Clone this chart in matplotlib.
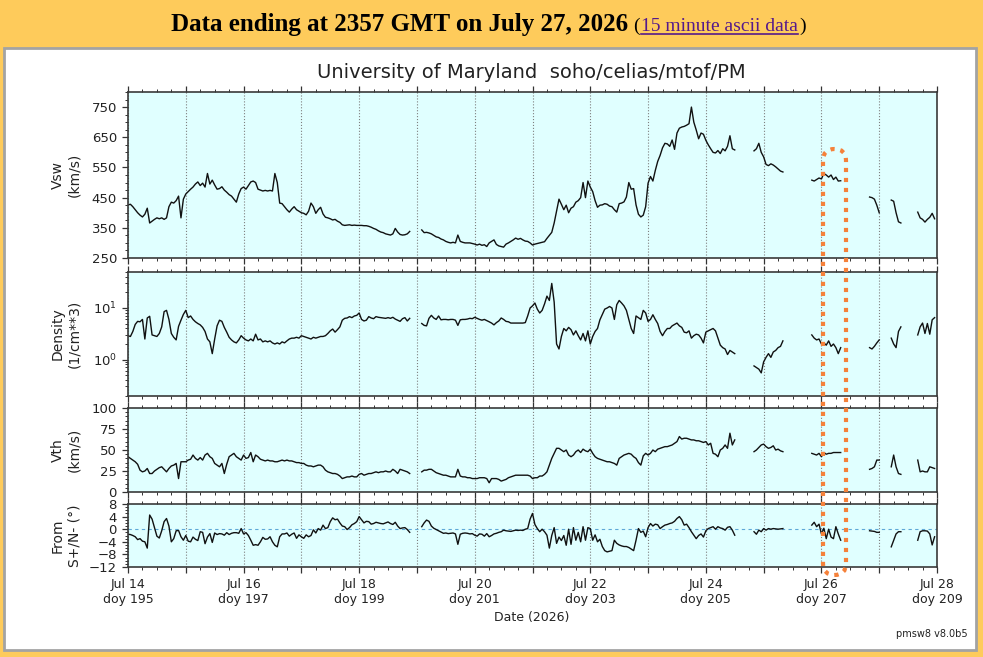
import numpy as np
import matplotlib
matplotlib.use("Agg")
import matplotlib.pyplot as plt
from matplotlib.patches import Rectangle, FancyBboxPatch
from matplotlib.transforms import IdentityTransform
from matplotlib.ticker import MultipleLocator, FixedLocator, LogLocator, NullFormatter, FuncFormatter

na = np.nan

# hourly values, Jul 14 00:00 .. Jul 27 23:00 GMT (one row per day)
vsw = [
    426, 428, 420, 410, 400, 392, 386, 395, 415, 366, 372, 378, 383, 380, 383, 378, 383, 420, 435, 432, 440, 455, 383, 445,
    462, 470, 478, 485, 495, 502, 490, 498, 485, 530, 495, 508, 492, 478, 480, 486, 475, 468, 460, 455, 445, 435, 462, 480,
    485, 478, 490, 502, 505, 500, 478, 475, 472, 474, 472, 474, 472, 530, 500, 432, 430, 420, 410, 402, 412, 420, 410, 405,
    400, 398, 393, 405, 432, 420, 398, 410, 418, 396, 385, 383, 380, 376, 378, 372, 368, 360, 358, 359, 360, 358, 359, 358,
    358, 358, 357, 357, 355, 352, 348, 345, 340, 336, 334, 330, 328, 326, 330, 348, 336, 328, 326, 327, 330, 338, na, na,
    na, na, 343, 334, 335, 333, 330, 325, 320, 318, 313, 310, 305, 302, 300, 302, 300, 326, 305, 302, 300, 300, 300, 298,
    296, 293, 296, 292, 294, 288, 300, 305, 310, 295, 290, 288, 286, 296, 300, 305, 310, 316, 312, 315, 310, 306, 305, 300,
    293, 296, 298, 300, 302, 304, 315, 325, 335, 366, 405, 445, 428, 410, 425, 400, 415, 420, 435, 440, 450, 500, 450, 505,
    485, 470, 440, 418, 425, 426, 430, 428, 422, 420, 410, 402, 430, 432, 436, 452, 500, 478, 480, 426, 395, 386, 392, 420,
    498, 520, 505, 540, 570, 590, 615, 630, 628, 620, 641, 610, 664, 680, 684, 686, 690, 695, 750, 700, 674, 645, 664, 660,
    640, 625, 612, 600, 598, 606, 596, 612, 605, 620, 655, 612, 608, na, na, na, na, na, na, na, 605, 612, 630, 600,
    585, 560, 556, 562, 558, 552, 545, 538, 535, na, na, na, na, na, na, na, na, na, na, na, 508, 505, 510, 515,
    512, 530, 525, 518, 525, 510, 518, 505, 506, na, na, na, na, na, na, na, na, na, na, na, 452, 450, 445, 425,
    400, na, na, na, na, 442, 438, 400, 370, 366, na, na, na, na, na, na, 402, 383, 378, 369, 378, 385, 398, 380,
]

density = [
    2.9, 2.8, 3.5, 4.8, 5.5, 5.4, 6.0, 2.5, 6.4, 6.9, 3.0, 2.9, 2.8, 3.2, 4.3, 8.5, 9.0, 6.0, 3.2, 2.7, 2.4, 4.4, 5.8, 7.5,
    9.0, 6.5, 7.0, 6.0, 5.4, 5.0, 4.7, 4.2, 3.5, 2.5, 2.2, 1.3, 2.5, 4.5, 5.8, 5.5, 4.2, 3.4, 2.7, 2.4, 2.2, 2.1, 2.4, 2.9,
    2.6, 2.4, 2.3, 2.5, 2.3, 3.1, 2.4, 2.5, 2.2, 2.3, 2.2, 2.3, 2.1, 2.0, 2.1, 2.0, 2.2, 2.1, 2.3, 2.5, 2.6, 2.6, 2.7, 2.6,
    2.9, 2.8, 2.7, 2.6, 2.5, 2.7, 2.6, 2.7, 2.8, 2.8, 2.9, 3.2, 3.6, 3.9, 3.4, 3.8, 4.3, 5.8, 6.3, 6.4, 6.8, 6.5, 7.0, 7.2,
    8.0, 6.0, 5.6, 5.8, 6.8, 6.4, 6.2, 6.8, 6.6, 6.5, 6.4, 6.3, 6.5, 6.3, 6.6, 6.1, 5.8, 5.5, 6.2, 6.5, 5.6, 6.3, na, na,
    na, na, 5.0, 4.6, 4.5, 6.3, 7.2, 6.4, 6.0, 7.0, 5.9, 6.0, 6.0, 5.9, 6.0, 6.0, 5.8, 4.6, 5.9, 6.0, 6.0, 6.1, 6.3, 6.2,
    6.6, 6.3, 6.0, 5.8, 6.0, 5.7, 5.4, 5.1, 4.7, 5.2, 5.6, 6.4, 6.0, 5.5, 5.4, 5.1, 5.1, 5.1, 5.1, 5.1, 5.1, 5.2, 7.0, 10.0,
    11.0, 12.5, 9.5, 8.0, 9.0, 12.0, 17.0, 14.0, 30.0, 13.0, 2.0, 1.6, 2.8, 4.0, 3.6, 4.2, 3.8, 3.0, 3.6, 2.9, 2.4, 3.2, 2.3, 3.6,
    2.0, 2.8, 3.5, 4.0, 5.9, 7.5, 9.5, 10.0, 10.7, 10.0, 6.0, 11.6, 14.0, 12.5, 11.0, 9.0, 6.0, 4.0, 3.2, 7.0, 6.5, 6.0, 9.0, 8.0,
    5.5, 6.0, 7.4, 6.0, 5.0, 3.5, 2.9, 3.5, 4.0, 4.0, 4.5, 4.8, 5.1, 4.5, 4.2, 3.4, 3.3, 3.6, 2.6, 2.9, 3.1, 3.0, 2.6, 2.1,
    3.4, 3.6, 3.8, 4.0, 3.6, 2.6, 1.9, 1.7, 1.6, 1.25, 1.5, 1.4, 1.3, na, na, na, na, na, na, na, 0.75, 0.7, 0.65, 0.55,
    0.9, 1.1, 1.3, 1.1, 1.4, 1.5, 1.7, 1.8, 2.3, na, na, na, na, na, na, na, na, na, na, na, 3.0, 2.6, 2.4, 2.5,
    2.0, 2.1, 1.9, 2.3, 1.8, 2.0, 1.7, 1.3, 1.7, na, na, na, na, na, na, na, na, na, na, na, 1.7, 1.6, 1.8, 2.1,
    2.4, na, na, na, na, 2.6, 2.0, 1.7, 3.5, 4.3, na, na, na, na, na, na, 3.0, 4.3, 5.1, 3.2, 5.0, 3.1, 5.9, 6.5,
]

vth = [
    42, 40, 38, 36, 33, 26, 24, 25, 28, 22, 22, 25, 27, 29, 30, 27, 24, 28, 31, 32, 34, 16, 36, 36,
    36, 38, 39, 44, 40, 38, 41, 38, 44, 46, 42, 40, 34, 32, 30, 34, 22, 33, 42, 44, 46, 42, 40, 38,
    44, 40, 41, 47, 36, 44, 42, 39, 38, 37, 38, 37, 37, 36, 36, 37, 38, 37, 38, 37, 37, 36, 35, 35,
    34, 34, 32, 31, 31, 30, 31, 32, 32, 30, 26, 24, 23, 22, 22, 21, 19, 16, 17, 18, 18, 19, 18, 18,
    21, 22, 20, 21, 22, 22, 23, 24, 23, 24, 24, 25, 24, 24, 27, 25, 22, 27, 26, 25, 24, 22, na, na,
    na, na, 24, 26, 26, 27, 27, 25, 23, 22, 21, 20, 20, 19, 18, 18, 18, 27, 19, 18, 18, 17, 17, 16,
    16, 16, 17, 17, 17, 16, 11, 16, 16, 16, 15, 13, 14, 15, 17, 18, 19, 20, 20, 20, 20, 20, 20, 19,
    16, 17, 17, 19, 19, 21, 24, 32, 40, 46, 52, 52, 50, 48, 50, 44, 42, 44, 48, 50, 47, 51, 49, 48,
    51, 46, 42, 40, 39, 38, 37, 36, 36, 35, 34, 32, 40, 42, 44, 45, 46, 45, 42, 40, 35, 32, 43, 46,
    44, 46, 50, 48, 51, 52, 53, 54, 54, 55, 56, 58, 60, 66, 63, 64, 64, 63, 62, 62, 61, 61, 60, 59,
    60, 56, 58, 46, 45, 42, 50, 52, 56, 52, 70, 56, 62, na, na, na, na, na, na, na, 48, 50, 53, 56,
    57, 54, 52, 53, 55, 50, 51, 49, 48, na, na, na, na, na, na, na, na, na, na, na, 46, 45, 44, 46,
    42, 47, 45, 46, 46, 47, 47, 47, 47, na, na, na, na, na, na, na, na, na, na, na, 27, 28, 30, 38,
    38, na, na, na, na, 30, 44, 30, 22, 21, na, na, na, na, na, na, 38, 24, 25, 24, 24, 30, 29, 28,
]

flow_angle = [
    -1.6, -1.7, -2.0, -2.4, -3.3, -3.0, -3.8, -4.0, -6.0, 4.5, 3.2, 0.5, -2.2, -2.8, -0.5, 2.4, 3.4, 1.0, -4.0, -3.0, -0.5, -0.4, -2.4, -3.5,
    -2.0, -3.8, -4.0, -2.5, -3.2, -3.6, -0.8, -1.0, -4.6, -2.5, -1.4, -4.2, -1.2, -1.7, -1.4, -1.5, -1.9, -1.1, -1.7, -1.3, -1.1, -1.1, -1.3, 0.2,
    -1.5, -1.1, -2.0, -3.5, -5.1, -4.9, -5.1, -4.0, -2.6, -3.2, -3.1, -2.4, -4.0, -5.1, -5.6, -2.4, -1.5, -1.5, -1.2, -2.2, -1.6, -1.2, -2.9, -1.8,
    -2.4, -2.9, -1.8, -2.4, -2.0, -0.2, -1.2, 0.2, -0.3, 1.3, 0.2, 0.5, 2.4, 3.6, 3.0, 3.2, 2.0, 1.0, 0.8, -0.1, 0.5, 1.4, 1.8, 2.4,
    4.0, 3.0, 2.0, 2.5, 2.4, 1.6, 1.8, 2.2, 2.0, 1.8, 1.7, 2.0, 2.3, 1.8, 1.5, 2.2, 1.0, 0.2, 0.4, 0.5, -0.1, -1.0, na, na,
    na, na, 0.8, 2.0, 2.9, 2.5, 1.0, 0.3, -0.1, -0.5, -0.9, -1.3, -1.2, -1.4, -1.3, -1.2, -1.5, -4.8, -1.6, -1.3, -1.2, -1.3, -1.5, -1.4,
    -1.9, -2.2, -1.5, -1.6, -2.2, -1.4, -2.4, -2.0, -1.5, -1.3, -1.0, -0.8, -0.3, -0.5, -0.6, -0.7, -0.5, -0.3, -0.4, -0.3, -0.4, 0.0, 0.2, 3.2,
    5.0, 1.5, 0.2, -0.8, 0.0, -0.8, -1.9, -6.0, -2.0, 0.5, -4.5, -2.5, -3.6, -2.0, -5.1, 0.0, -4.8, 0.5, -3.5, -1.0, -4.0, 0.8, -3.5, 0.5,
    0.2, -3.5, -1.8, -4.0, -3.2, -5.5, -6.8, -7.2, -7.0, -6.8, -3.5, -4.5, -5.0, -5.3, -5.5, -5.5, -5.8, -6.3, -6.8, -3.5, 0.2, -1.0, -0.6, -2.4,
    0.5, 1.8, 1.0, 1.6, 1.4, 0.2, 0.8, 1.3, 1.5, 1.8, 2.0, 2.5, 3.4, 4.0, 3.0, 1.3, 1.6, 0.5, -0.8, -1.9, -3.0, -2.0, -1.5, -2.5,
    -0.5, 0.2, 0.5, 0.8, 0.0, 0.8, 0.4, 0.2, -0.3, 0.6, 0.8, -0.3, -1.9, na, na, na, na, na, na, na, -0.8, -1.6, -0.3, -0.8,
    0.2, -0.3, 0.2, 0.0, 0.2, 0.1, 0.0, 0.1, 0.2, na, na, na, na, na, na, na, na, na, na, na, 1.3, 2.2, 0.8, 1.6,
    -1.5, 0.3, -3.0, 0.0, -2.5, -3.0, 0.8, -1.5, -3.5, na, na, na, na, na, na, na, na, na, na, na, -0.5, -0.6, -0.7, -1.0,
    -1.0, na, na, na, na, -5.6, -3.5, -1.5, -0.8, -0.8, na, na, na, na, na, na, -3.5, -0.8, -0.5, -0.5, -0.6, -1.5, -5.0, -2.4,
]

date_labels = ["Jul 14\ndoy 195", "Jul 16\ndoy 197", "Jul 18\ndoy 199", "Jul 20\ndoy 201",
               "Jul 22\ndoy 203", "Jul 24\ndoy 205", "Jul 26\ndoy 207", "Jul 28\ndoy 209"]

days = np.arange(len(vsw)) / 24.0

W, H = 983, 657
fig = plt.figure(figsize=(W / 100, H / 100), dpi=100)
fig.patch.set_facecolor("#fecb5b")


def fx(px):
    return px / W


def fy(py):
    return 1 - py / H


# white page area with grey border
fig.add_artist(Rectangle((fx(4), fy(650)), 972 / W, 602 / H, transform=fig.transFigure,
                         facecolor="white", edgecolor="#a3a3a3", lw=2, zorder=0))

# page header
serif = "Liberation Serif"
head = fig.text(fx(628), fy(31), "Data ending at 2357 GMT on July 27, 2026", ha="right", va="baseline",
                family=serif, weight="bold", size=18)
fig.text(fx(633), fy(31), "(", ha="left", va="baseline", family=serif, size=14)
link = fig.text(fx(641), fy(31), "15 minute ascii data", ha="left", va="baseline",
                family=serif, size=14, color="#551a8b")
renderer = fig.canvas.get_renderer()
lb = link.get_window_extent(renderer)
fig.add_artist(plt.Line2D([lb.x0 / W, lb.x1 / W], [fy(34), fy(34)], transform=fig.transFigure,
                          color="#551a8b", lw=1.2))
fig.text(lb.x1 / W + 1 / W, fy(31), ")", ha="left", va="baseline", family=serif, size=14)

fig.text(fx(531), fy(73), "University of Maryland  soho/celias/mtof/PM", ha="center", va="center",
         size=14, color="#222222")

panels = [(92, 258), (272, 395.5), (408, 492), (504, 567)]
axes = []
for top, bot in panels:
    ax = fig.add_axes([fx(128), fy(bot), 809 / W, (bot - top) / H])
    ax.set_facecolor("#e0ffff")
    ax.set_xlim(0, 14)
    ax.xaxis.set_major_locator(MultipleLocator(1))
    ax.xaxis.set_minor_locator(MultipleLocator(0.25))
    ax.grid(axis="x", which="major", ls=":", color="#7f7f7f", lw=0.8)
    ax.tick_params(which="both", direction="out", top=True, right=False, colors="#333333",
                   labelsize=9.5, labelcolor="#222222")
    ax.tick_params(which="major", length=4.5, width=0.9)
    ax.tick_params(which="minor", length=2.5, width=0.7)
    ax.tick_params(axis="x", labelbottom=False)
    for s in ax.spines.values():
        s.set_color("#3a3a3a")
        s.set_linewidth(1.2)
    axes.append(ax)

ax1, ax2, ax3, ax4 = axes

ax1.plot(days, vsw, color="#111111", lw=1.0)
ax1.set_ylim(250, 800)
ax1.yaxis.set_major_locator(FixedLocator([250, 350, 450, 550, 650, 750]))
ax1.yaxis.set_minor_locator(MultipleLocator(25))
ax1.set_ylabel("Vsw\n(km/s)")

ax2.plot(days, density, color="#111111", lw=1.0)
ax2.set_yscale("log")
ax2.set_ylim(0.2, 50)
ax2.yaxis.set_major_locator(LogLocator(base=10))
ax2.yaxis.set_minor_locator(LogLocator(base=10, subs=np.arange(2, 10)))
ax2.yaxis.set_minor_formatter(NullFormatter())
ax2.set_ylabel("Density\n(1/cm**3)")

ax3.plot(days, vth, color="#111111", lw=1.0)
ax3.set_ylim(0, 100)
ax3.yaxis.set_major_locator(MultipleLocator(25))
ax3.yaxis.set_minor_locator(MultipleLocator(5))
ax3.set_ylabel("Vth\n(km/s)")

ax4.axhline(0, color="#5fa8d8", lw=0.8, ls=(0, (3, 3)))
ax4.plot(days, flow_angle, color="#111111", lw=1.0)
ax4.set_ylim(-12, 8)
ax4.yaxis.set_major_locator(MultipleLocator(4))
ax4.yaxis.set_minor_locator(MultipleLocator(1))
ax4.set_ylabel("From\nS+/N- (°)")

ax4.tick_params(axis="x", labelbottom=True, labelsize=9)
ax4.xaxis.set_major_formatter(FuncFormatter(
    lambda v, pos: date_labels[int(round(v)) // 2] if int(round(v)) % 2 == 0 else ""))

# keep the stacked 0 / 8 labels apart where Vth meets the flow-angle panel
ax3.get_yticklabels()[0].set_va("bottom")
ax4.get_yticklabels()[-1].set_va("top")

for ax in axes:
    ax.yaxis.label.set_size(10)
    ax.yaxis.label.set_color("#222222")
    ax.yaxis.label.set_multialignment("center")
    ax.yaxis.set_label_coords(-0.058, 0.5)

fig.text(fx(532), fy(618), "Date (2026)", ha="center", va="center", size=9, color="#222222")
fig.text(fx(968), fy(634), "pmsw8 v8.0b5", ha="right", va="center", size=7, color="#222222")

# orange dotted highlight around Jul 26
fig.add_artist(FancyBboxPatch((823, H - 575), 23, 426, boxstyle="round,pad=0,rounding_size=11.5",
                              transform=IdentityTransform(), fill=False, edgecolor="#f5813a",
                              lw=3, ls=(0, (1, 1.4)), zorder=10))

fig.savefig("out.png", dpi=100, facecolor=fig.get_facecolor())
